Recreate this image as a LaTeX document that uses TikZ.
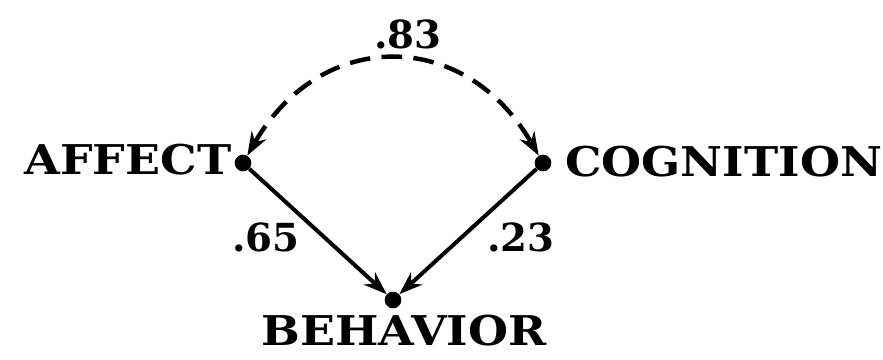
\documentclass[tikz,border=0pt]{standalone}
\usepackage{fontspec}
\setmainfont{DejaVu Serif}
\newfontfamily\widefont{DejaVu Serif}[FakeStretch=1.12]
\usetikzlibrary{arrows.meta,positioning}
\tikzset{vardot/.style={circle,fill=black,inner sep=0pt,minimum size=0.5cm},
  varname/.style={font=\widefont\bfseries\fontsize{35}{40}\selectfont,inner sep=0pt},
  chemin/.style={draw=black,line width=3.4pt,-{Stealth[length=0.7cm,width=0.5cm]}},
  correlation/.style={draw=black,line width=3.8pt,dash pattern=on 0.62cm off 0.34cm,
    {Stealth[length=0.7cm,width=0.5cm]}-{Stealth[length=0.7cm,width=0.5cm]}},
  coef/.style={font=\bfseries\fontsize{33}{38}\selectfont,inner sep=0pt}}

\begin{document}
\begin{tikzpicture}[x=0.03cm,y=0.03cm]
\useasboundingbox (0,0) rectangle (883,360);

\node[vardot] (A) at (243,197) {};
\node[vardot] (C) at (543,197) {};
\node[vardot] (B) at (393,60) {};

\node[varname,left=0.09cm of A,yshift=0.09cm] (Atxt) {AFFECT};
\node[varname,right=0.4cm of C,yshift=0.03cm] (Ctxt) {COGNITION};
\node[varname,below=0.2cm of B,xshift=0.33cm] (Btxt) {BEHAVIOR};

\draw[correlation] (A) to[out=60,in=120,looseness=1.3] node[coef,midway,above=0.24cm,xshift=0.45cm] {.83} (C);
\draw[chemin] (A) -- node[coef,pos=0.55,left=0.7cm] {.65} (B);
\draw[chemin] (C) -- node[coef,pos=0.55,right=0.72cm] {.23} (B);

\end{tikzpicture}
\end{document}
